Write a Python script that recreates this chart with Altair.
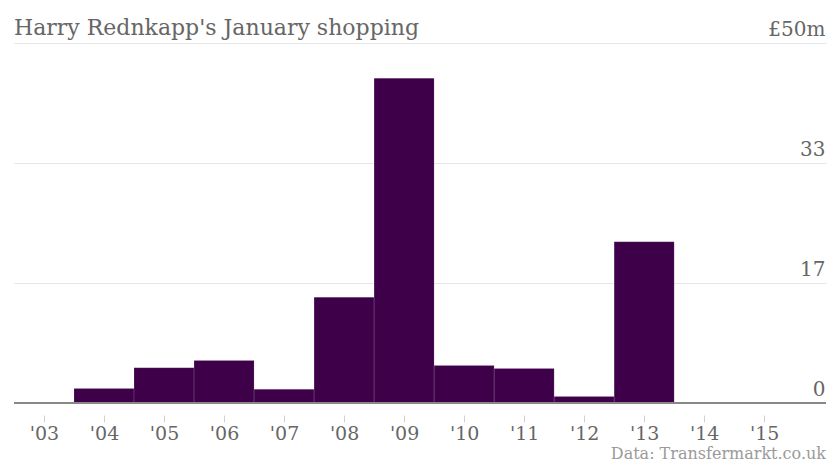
import altair as alt
import pandas as pd

years = list(range(2003, 2016))
spend = [0, 2.0, 4.9, 5.9, 1.9, 14.7, 45.1, 5.2, 4.8, 0.9, 22.4, 0, 0]
y_ticks = [0, 50 / 3, 100 / 3, 50]
title_text = "Harry Rednkapp's January shopping"
source_text = "Data: Transfermarkt.co.uk"

df = pd.DataFrame({"year": years, "spend": spend})
df["start"] = df["year"] - 0.5
df["end"] = df["year"] + 0.5

FONT = "DejaVu Serif"

x_scale = alt.Scale(domain=[2002.5, 2016.03], nice=False, zero=False)
y_scale = alt.Scale(domain=[0, 50], nice=False)

bars = alt.Chart(df).mark_rect(color="#3d0049", stroke="#ffffff", strokeWidth=0.3, strokeOpacity=0.4).encode(
    x=alt.X("start:Q", scale=x_scale,
            axis=alt.Axis(values=years, title=None, domain=False, grid=False,
                          offset=12, tickSize=7, tickColor="#d0d0d0", tickWidth=1,
                          labelExpr="\"'\" + slice(toString(datum.value), 2)",
                          labelFont=FONT, labelFontSize=19, labelColor="#666666",
                          labelPadding=2)),
    x2="end:Q",
    y=alt.Y("spend:Q", scale=y_scale,
            axis=alt.Axis(orient="right", values=y_ticks, title=None, domain=False,
                          ticks=False, grid=True, gridColor="#e6e6e6", gridWidth=1,
                          labelAlign="right", labelBaseline="bottom", labelPadding=-1,
                          labelOffset=-4,
                          labelExpr="datum.value == 50 ? '£50m' : format(datum.value, '.0f')",
                          labelFont=FONT, labelFontSize=20, labelColor="#666666")),
)

base = alt.Chart(df).mark_rule(color="#888888", strokeWidth=1.5).encode(y=alt.datum(0, scale=y_scale))

title = alt.Chart(pd.DataFrame({"t": [title_text]})).mark_text(
    align="left", baseline="alphabetic", font=FONT, fontSize=22, color="#666666"
).encode(text="t:N", x=alt.value(0), y=alt.value(-8))

source = alt.Chart(pd.DataFrame({"t": [source_text]})).mark_text(
    align="right", baseline="alphabetic", font=FONT, fontSize=16, color="#9a9a9a"
).encode(text="t:N", x=alt.value(812), y=alt.value(416))

chart = alt.layer(bars, base, title, source).properties(
    width=812, height=360,
    padding={"left": 6, "top": 35, "right": 6, "bottom": 62},
    autosize=alt.AutoSizeParams(type="none"),
).configure_view(stroke=None)

chart.save("out.html", embed_options={"renderer": "svg", "actions": False})
